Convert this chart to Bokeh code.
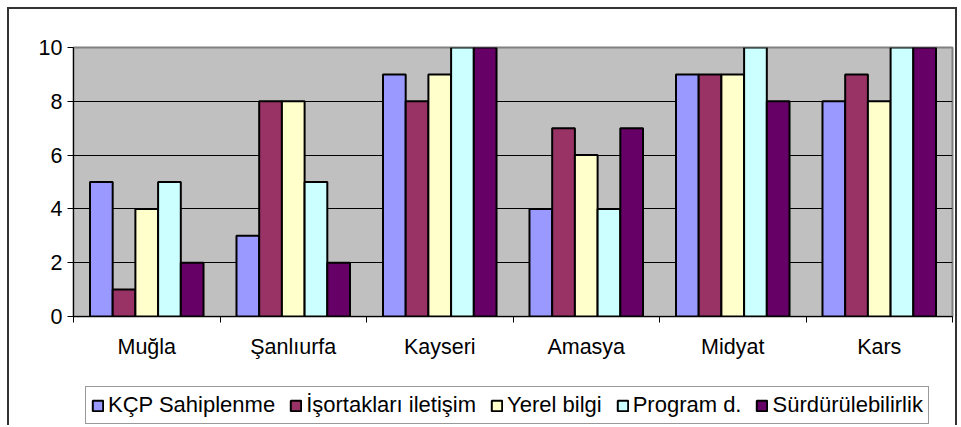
from bokeh.plotting import figure
from bokeh.layouts import column
from bokeh.models import ColumnDataSource, FixedTicker, Legend, LegendItem, Range1d
from bokeh.transform import dodge
from bokeh.embed import file_html
from bokeh.resources import INLINE

cities = ["Muğla", "Şanlıurfa", "Kayseri", "Amasya", "Midyat", "Kars"]
series_names = ["KÇP Sahiplenme", "İşortakları iletişim", "Yerel bilgi", "Program d.", "Sürdürülebilirlik"]
kcp_sahiplenme = [5, 3, 9, 4, 9, 8]
isortaklari_iletisim = [1, 8, 8, 7, 9, 9]
yerel_bilgi = [4, 8, 9, 6, 9, 8]
program_d = [5, 5, 10, 4, 10, 10]
surdurulebilirlik = [2, 2, 10, 7, 8, 10]
y_ticks = [0, 2, 4, 6, 8, 10]
colors = ["#9999FF", "#993366", "#FFFFCC", "#CCFFFF", "#660066"]

values = [kcp_sahiplenme, isortaklari_iletisim, yerel_bilgi, program_d, surdurulebilirlik]
x_centers = [i + 0.5 for i in range(len(cities))]
data = {"x": x_centers}
keys = ["s%d" % i for i in range(len(series_names))]
for k, v in zip(keys, values):
    data[k] = v
source = ColumnDataSource(data)

FONT = "Liberation Sans"
FS = "21.5px"
BORDER = "2px solid #333333"

# main chart
p = figure(width=950, height=361, output_backend="svg", toolbar_location=None,
           x_range=Range1d(0, len(cities)), y_range=Range1d(0, 10),
           min_border_left=64, min_border_right=7, min_border_top=38, min_border_bottom=54)
p.styles = {"margin-left": "7px", "margin-top": "7px",
            "border-top": BORDER, "border-left": BORDER, "border-right": BORDER}
p.background_fill_color = "#C0C0C0"
p.border_fill_color = "white"
p.outline_line_color = "#808080"
p.outline_line_width = 2

bw = 0.155
for i, (k, c) in enumerate(zip(keys, colors)):
    p.vbar(x=dodge("x", (i - 2) * bw, range=p.x_range), top=k, width=bw, source=source,
           fill_color=c, line_color="black", line_width=2)

p.xaxis.ticker = FixedTicker(ticks=x_centers, minor_ticks=list(range(len(cities) + 1)))
p.xaxis.major_label_overrides = {x: c for x, c in zip(x_centers, cities)}
p.xaxis.major_tick_out = 0
p.xaxis.major_tick_in = 0
p.xaxis.minor_tick_out = 6
p.xaxis.minor_tick_in = 0
p.xaxis.minor_tick_line_color = "black"
p.xaxis.axis_line_color = "black"
p.xaxis.major_label_standoff = 12
p.yaxis.ticker = FixedTicker(ticks=y_ticks)
p.yaxis.major_tick_out = 6
p.yaxis.major_tick_in = 0
p.yaxis.minor_tick_line_color = None
p.yaxis.axis_line_color = "black"
p.yaxis.major_label_standoff = 5
for ax in (p.xaxis, p.yaxis):
    ax.major_label_text_font = FONT
    ax.major_label_text_font_size = FS
    ax.major_label_text_color = "black"

p.xgrid.grid_line_color = None
p.ygrid.ticker = FixedTicker(ticks=[2, 4, 6, 8])
p.ygrid.grid_line_color = "black"
p.ygrid.grid_line_width = 1

# legend strip: the same series as hidden renderers, only their legend is shown
q = figure(width=950, height=57, output_backend="svg", toolbar_location=None,
           x_range=Range1d(0, len(cities)), y_range=Range1d(0, 10),
           x_axis_type=None, y_axis_type=None,
           min_border_left=0, min_border_right=0, min_border_top=0, min_border_bottom=0)
q.styles = {"margin-left": "7px", "border-left": BORDER, "border-right": BORDER}
q.background_fill_color = "white"
q.border_fill_color = "white"
q.outline_line_color = None
q.grid.grid_line_color = None
lr = []
for i, (k, c) in enumerate(zip(keys, colors)):
    lr.append(q.vbar(x=dodge("x", (i - 2) * bw, range=q.x_range), top=k, width=bw, source=source,
                     fill_color=c, line_color="black", line_width=2, visible=False))

items = [LegendItem(label=n, renderers=[r]) for n, r in zip(series_names, lr)]
legend = Legend(items=items, orientation="horizontal", location=(12, 1),
                label_text_font=FONT, label_text_font_size="22px", label_text_color="black",
                glyph_width=13, glyph_height=13, label_standoff=4, spacing=14,
                padding=5, margin=0, label_height=20,
                inactive_fill_alpha=0,
                border_line_color="#333333", border_line_width=1,
                background_fill_color="white", background_fill_alpha=1)
q.add_layout(legend, "center")

layout = column(p, q, spacing=0)
open("out.html", "w").write(file_html(layout, INLINE))
